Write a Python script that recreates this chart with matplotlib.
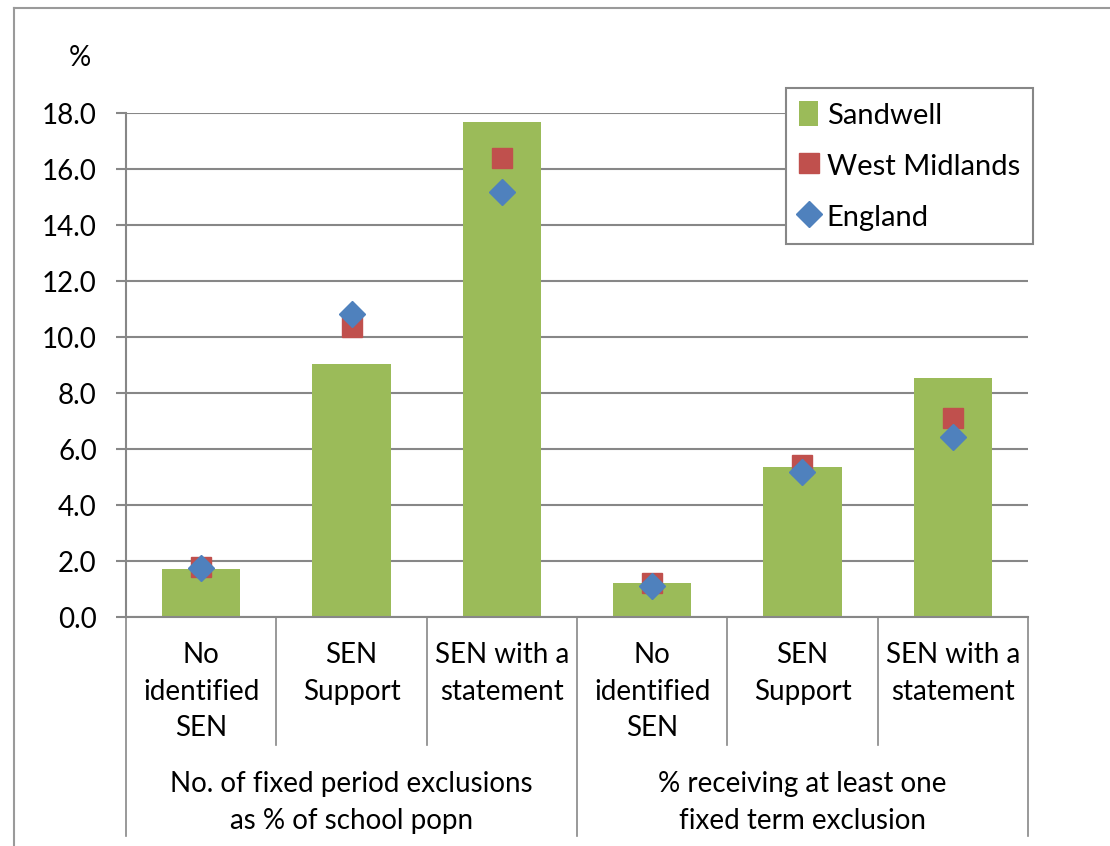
import matplotlib
matplotlib.use("Agg")
import matplotlib.pyplot as plt
from matplotlib.lines import Line2D
from matplotlib.patches import Patch
import matplotlib.transforms as mtransforms

categories = ["No\nidentified\nSEN", "SEN\nSupport", "SEN with a\nstatement",
              "No\nidentified\nSEN", "SEN\nSupport", "SEN with a\nstatement"]
groups = ["No. of fixed period exclusions\nas % of school popn",
          "% receiving at least one\nfixed term exclusion"]
sandwell = [1.73, 9.04, 17.68, 1.20, 5.37, 8.55]
west_midlands = [1.79, 10.36, 16.39, 1.21, 5.43, 7.10]
england = [1.75, 10.82, 15.18, 1.10, 5.19, 6.44]
yticks = [0, 2, 4, 6, 8, 10, 12, 14, 16, 18]

GREEN, RED, BLUE = "#9BBB59", "#C0504D", "#4F81BD"
GRID = "#878787"
FONT = "Lato"
FS = 20
LFS = 21

plt.rcParams['font.family'] = [FONT, 'DejaVu Sans']

fig = plt.figure(figsize=(11.1, 8.46), dpi=100)
W, H = 1110, 846
l, r, t, b = 126, 1028, 113, 617
ax = fig.add_axes([l / W, 1 - b / H, (r - l) / W, (b - t) / H])

x = list(range(len(categories)))
ax.bar(x, sandwell, width=0.52, color=GREEN, zorder=2, label="Sandwell")
ax.plot(x, west_midlands, linestyle="none", marker="s", markersize=15,
        color=RED, zorder=3, label="West Midlands")
ax.plot(x, england, linestyle="none", marker="D", markersize=13,
        color=BLUE, zorder=4, label="England")

ax.set_xlim(-0.5, len(categories) - 0.5)
ax.set_ylim(0, 18)
ax.set_yticks(yticks)
ax.set_yticklabels([f"{v:.1f}" for v in yticks], fontsize=FS)
ax.yaxis.grid(True, color=GRID, linewidth=1.5, zorder=0)
ax.set_axisbelow(True)
ax.tick_params(axis="y", length=7, width=1.5, color=GRID, pad=14)
ax.set_xticks([])
for s in ["top", "right"]:
    ax.spines[s].set_visible(False)
for s in ["left", "bottom"]:
    ax.spines[s].set_color(GRID)
    ax.spines[s].set_linewidth(1.5)
ax.spines["bottom"].set_zorder(5)

trans = mtransforms.blended_transform_factory(ax.transData, ax.transAxes)
inner_bot = -(745 - b) / (b - t)
outer_bot = -(836 - b) / (b - t)
for i in range(1, len(categories)):
    if i == 3:
        continue
    ax.plot([i - 0.5, i - 0.5], [0, inner_bot], transform=trans, color=GRID,
            linewidth=1.2, clip_on=False)
for xv in [-0.5, 2.5, 5.5]:
    ax.plot([xv, xv], [0, outer_bot], transform=trans, color=GRID,
            linewidth=1.2, clip_on=False)

for i, c in enumerate(categories):
    ax.text(i, -(642 - b) / (b - t), c, transform=trans, ha="center", va="top",
            fontsize=FS, linespacing=1.50)
for g, name in enumerate(groups):
    ax.text(g * 3 + 1, -(771 - b) / (b - t), name, transform=trans, ha="center",
            va="top", fontsize=FS, linespacing=1.50)

ax.text(80 / W, 1 - 58 / H, "%", transform=fig.transFigure, ha="center",
        va="center", fontsize=FS)

handles = [Patch(facecolor=GREEN, edgecolor="none"),
           Line2D([], [], linestyle="none", marker="s", markersize=15, color=RED),
           Line2D([], [], linestyle="none", marker="D", markersize=13, color=BLUE)]
leg = ax.legend(handles, ["Sandwell", "West Midlands", "England"],
                loc="upper left", bbox_to_anchor=((786 - l) / (r - l), (b - 88) / (b - t)),
                fontsize=LFS, frameon=True, fancybox=False, framealpha=1,
                edgecolor=GRID, borderpad=0.45, labelspacing=0.8,
                handlelength=0.65, handleheight=0.95, handletextpad=0.3,
                borderaxespad=0)
leg.get_frame().set_linewidth(1.5)

fig.add_artist(Line2D([14 / W, 14 / W], [0, 1 - 8 / H], color="#9a9a9a",
                      linewidth=1.5, transform=fig.transFigure))
fig.add_artist(Line2D([14 / W, 1], [1 - 8 / H, 1 - 8 / H], color="#9a9a9a",
                      linewidth=1.5, transform=fig.transFigure))

fig.savefig("out.png", dpi=100)
